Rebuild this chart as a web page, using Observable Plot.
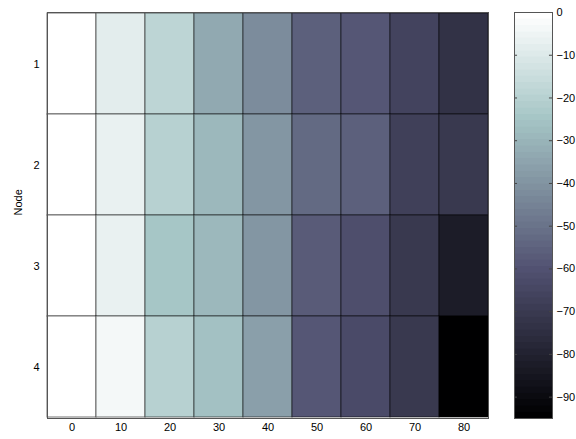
<!DOCTYPE html>
<html>
<head>
<meta charset="utf-8">
<script src="https://cdn.jsdelivr.net/npm/d3@7"></script>
<script src="https://cdn.jsdelivr.net/npm/@observablehq/plot@0.6"></script>
<style>
  html, body { margin: 0; padding: 0; background: #fff; }
  #wrap { position: relative; width: 576px; height: 439px; font-family: "Liberation Sans", Arial, sans-serif; }
  #wrap svg { position: absolute; top: 0; }
  #wrap svg text { fill: #000; }
</style>
</head>
<body>
<div id="wrap"></div>
<script>
// ---- data ----
const nodes = [1, 2, 3, 4];
const steps = [0, 10, 20, 30, 40, 50, 60, 70, 80];
const node1 = [0, -8, -18, -33, -43, -56, -59, -66, -74];
const node2 = [0, -6, -20, -29, -39, -52, -56, -67, -71];
const node3 = [0, -6, -24, -29, -39, -57, -61, -70, -83];
const node4 = [0, -3, -20, -26, -37, -58, -63, -70, -95];
const colorTicks = [0, -10, -20, -30, -40, -50, -60, -70, -80, -90];
const cmin = -95, cmax = 0;

const series = [node1, node2, node3, node4];
const table = [];
nodes.forEach((n, i) => steps.forEach((s, j) => table.push({node: n, step: s, value: series[i][j]})));

// MATLAB "bone" colormap, 64 levels
const M = 64, N = 24;
function bone(k) {
  const t = k / (M - 1);
  const hr = k < N ? (k + 1) / N : 1;
  const hg = k < N ? 0 : (k < 2 * N ? (k - N + 1) / N : 1);
  const hb = k < 2 * N ? 0 : (k - 2 * N + 1) / (M - 2 * N);
  const c = v => Math.round(255 * Math.min(1, v));
  return `rgb(${c((7 * t + hb) / 8)},${c((7 * t + hg) / 8)},${c((7 * t + hr) / 8)})`;
}
const boneInterp = (t) => bone(Math.max(0, Math.min(M - 1, Math.floor(t * M))));

const font = "Liberation Sans, Arial, sans-serif";
const wrap = document.getElementById("wrap");

const main = Plot.plot({
  width: 576,
  height: 439,
  marginLeft: 47,
  marginRight: 88,
  marginTop: 12,
  marginBottom: 21,
  style: {fontFamily: font, fontSize: "11px", background: "transparent", color: "#000"},
  x: {type: "band", domain: steps, padding: 0, label: null},
  y: {type: "band", domain: nodes, padding: 0, label: null},
  color: {type: "linear", domain: [cmin, cmax], interpolate: boneInterp, clamp: true},
  marks: [
    Plot.cell(table, {x: "step", y: "node", fill: "value", stroke: "#000", strokeOpacity: 0.55, strokeWidth: 1}),
    Plot.frame({stroke: "#555", strokeWidth: 1}),
    Plot.axisX({tickSize: 0, tickPadding: 5, label: null, fill: "#000"}),
    Plot.axisY({tickSize: 0, tickPadding: 8, label: null, fill: "#000"}),
    Plot.text(["Node"], {frameAnchor: "left", dx: -29, rotate: -90, fontSize: 11, fill: "#000"})
  ]
});
main.style.left = "0px";
wrap.appendChild(main);

// colorbar
const levels = d3.range(M).map(k => ({
  y1: cmin + (k / M) * (cmax - cmin),
  y2: cmin + ((k + 1) / M) * (cmax - cmin),
  fill: bone(k)
}));
const cb = Plot.plot({
  width: 62,
  height: 439,
  marginLeft: 0,
  marginRight: 24,
  marginTop: 12,
  marginBottom: 21,
  style: {fontFamily: font, fontSize: "11px", background: "transparent", color: "#000"},
  x: {domain: [0, 1], axis: null},
  y: {domain: [cmin, cmax], label: null},
  marks: [
    Plot.rectY(levels, {x1: 0, x2: 1, y1: "y1", y2: "y2", fill: "fill", stroke: "fill", strokeWidth: 0.6, shapeRendering: "crispEdges"}),
    Plot.ruleY(colorTicks, {y: d => d, x1: 0, x2: 0.08, stroke: "#444", strokeWidth: 1}),
    Plot.ruleY(colorTicks, {y: d => d, x1: 0.92, x2: 1, stroke: "#444", strokeWidth: 1}),
    Plot.frame({stroke: "#555", strokeWidth: 1}),
    Plot.axisY(colorTicks, {anchor: "right", tickSize: 0, tickPadding: 4, label: null, fill: "#000",
      tickFormat: d => d < 0 ? "\u2212" + Math.abs(d) : String(d)})
  ]
});
cb.style.left = "514px";
wrap.appendChild(cb);
</script>
</body>
</html>
